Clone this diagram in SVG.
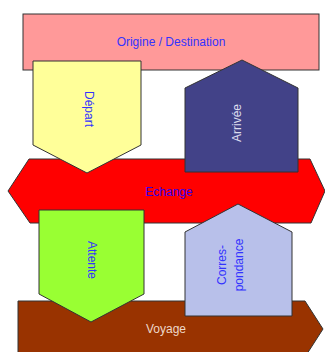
<svg xmlns="http://www.w3.org/2000/svg" width="325" height="352" viewBox="0 0 325 352">
<style>
.s{stroke:#333;stroke-width:1}
.t{font-family:"Liberation Sans",Arial,sans-serif;font-size:12px;text-anchor:middle;dominant-baseline:central;fill:#3333FF}
</style>
<rect width="325" height="352" fill="#fff"/>
<g id="origine">
<rect class="s" x="23" y="14" width="296" height="56" fill="#FF9999"/>
<text class="t" x="171" y="42">Origine / Destination</text>
</g>
<g id="echange">
<polygon class="s" points="29,159 310,159 325,191 311,223 30,223 8,191" fill="#FF0000"/>
<text class="t" x="169" y="192" fill="#3300EE" style="fill:#3300EE">Echange</text>
</g>
<g id="voyage">
<polygon class="s" points="18,301 305,301 323,329 305,357 18,357" fill="#993300"/>
<text class="t" x="166" y="329" style="fill:#EED8C8">Voyage</text>
</g>
<g id="depart">
<polygon class="s" points="33,61 141,61 141,145 87,173 33,145" fill="#FFFF99"/>
<text class="t" transform="translate(89,109) rotate(90)">Départ</text>
</g>
<g id="arrivee">
<polygon class="s" points="242,60 298,88 298,172 185,172 185,88" fill="#424288"/>
<text class="t" transform="translate(237,123) rotate(-90)" style="fill:#DDDDEE">Arrivée</text>
</g>
<g id="attente">
<polygon class="s" points="39,210 144,210 144,294 91,322 39,294" fill="#99FF33"/>
<text class="t" transform="translate(92,260) rotate(90)">Attente</text>
</g>
<g id="correspondance">
<polygon class="s" points="238,204 292,232 292,316 185,316 185,232" fill="#B8C0EA"/>
<text class="t" transform="translate(222,265) rotate(-90)">Corres-</text>
<text class="t" transform="translate(239,265) rotate(-90)">pondance</text>
</g>
<g id="connectors"></g>
</svg>
